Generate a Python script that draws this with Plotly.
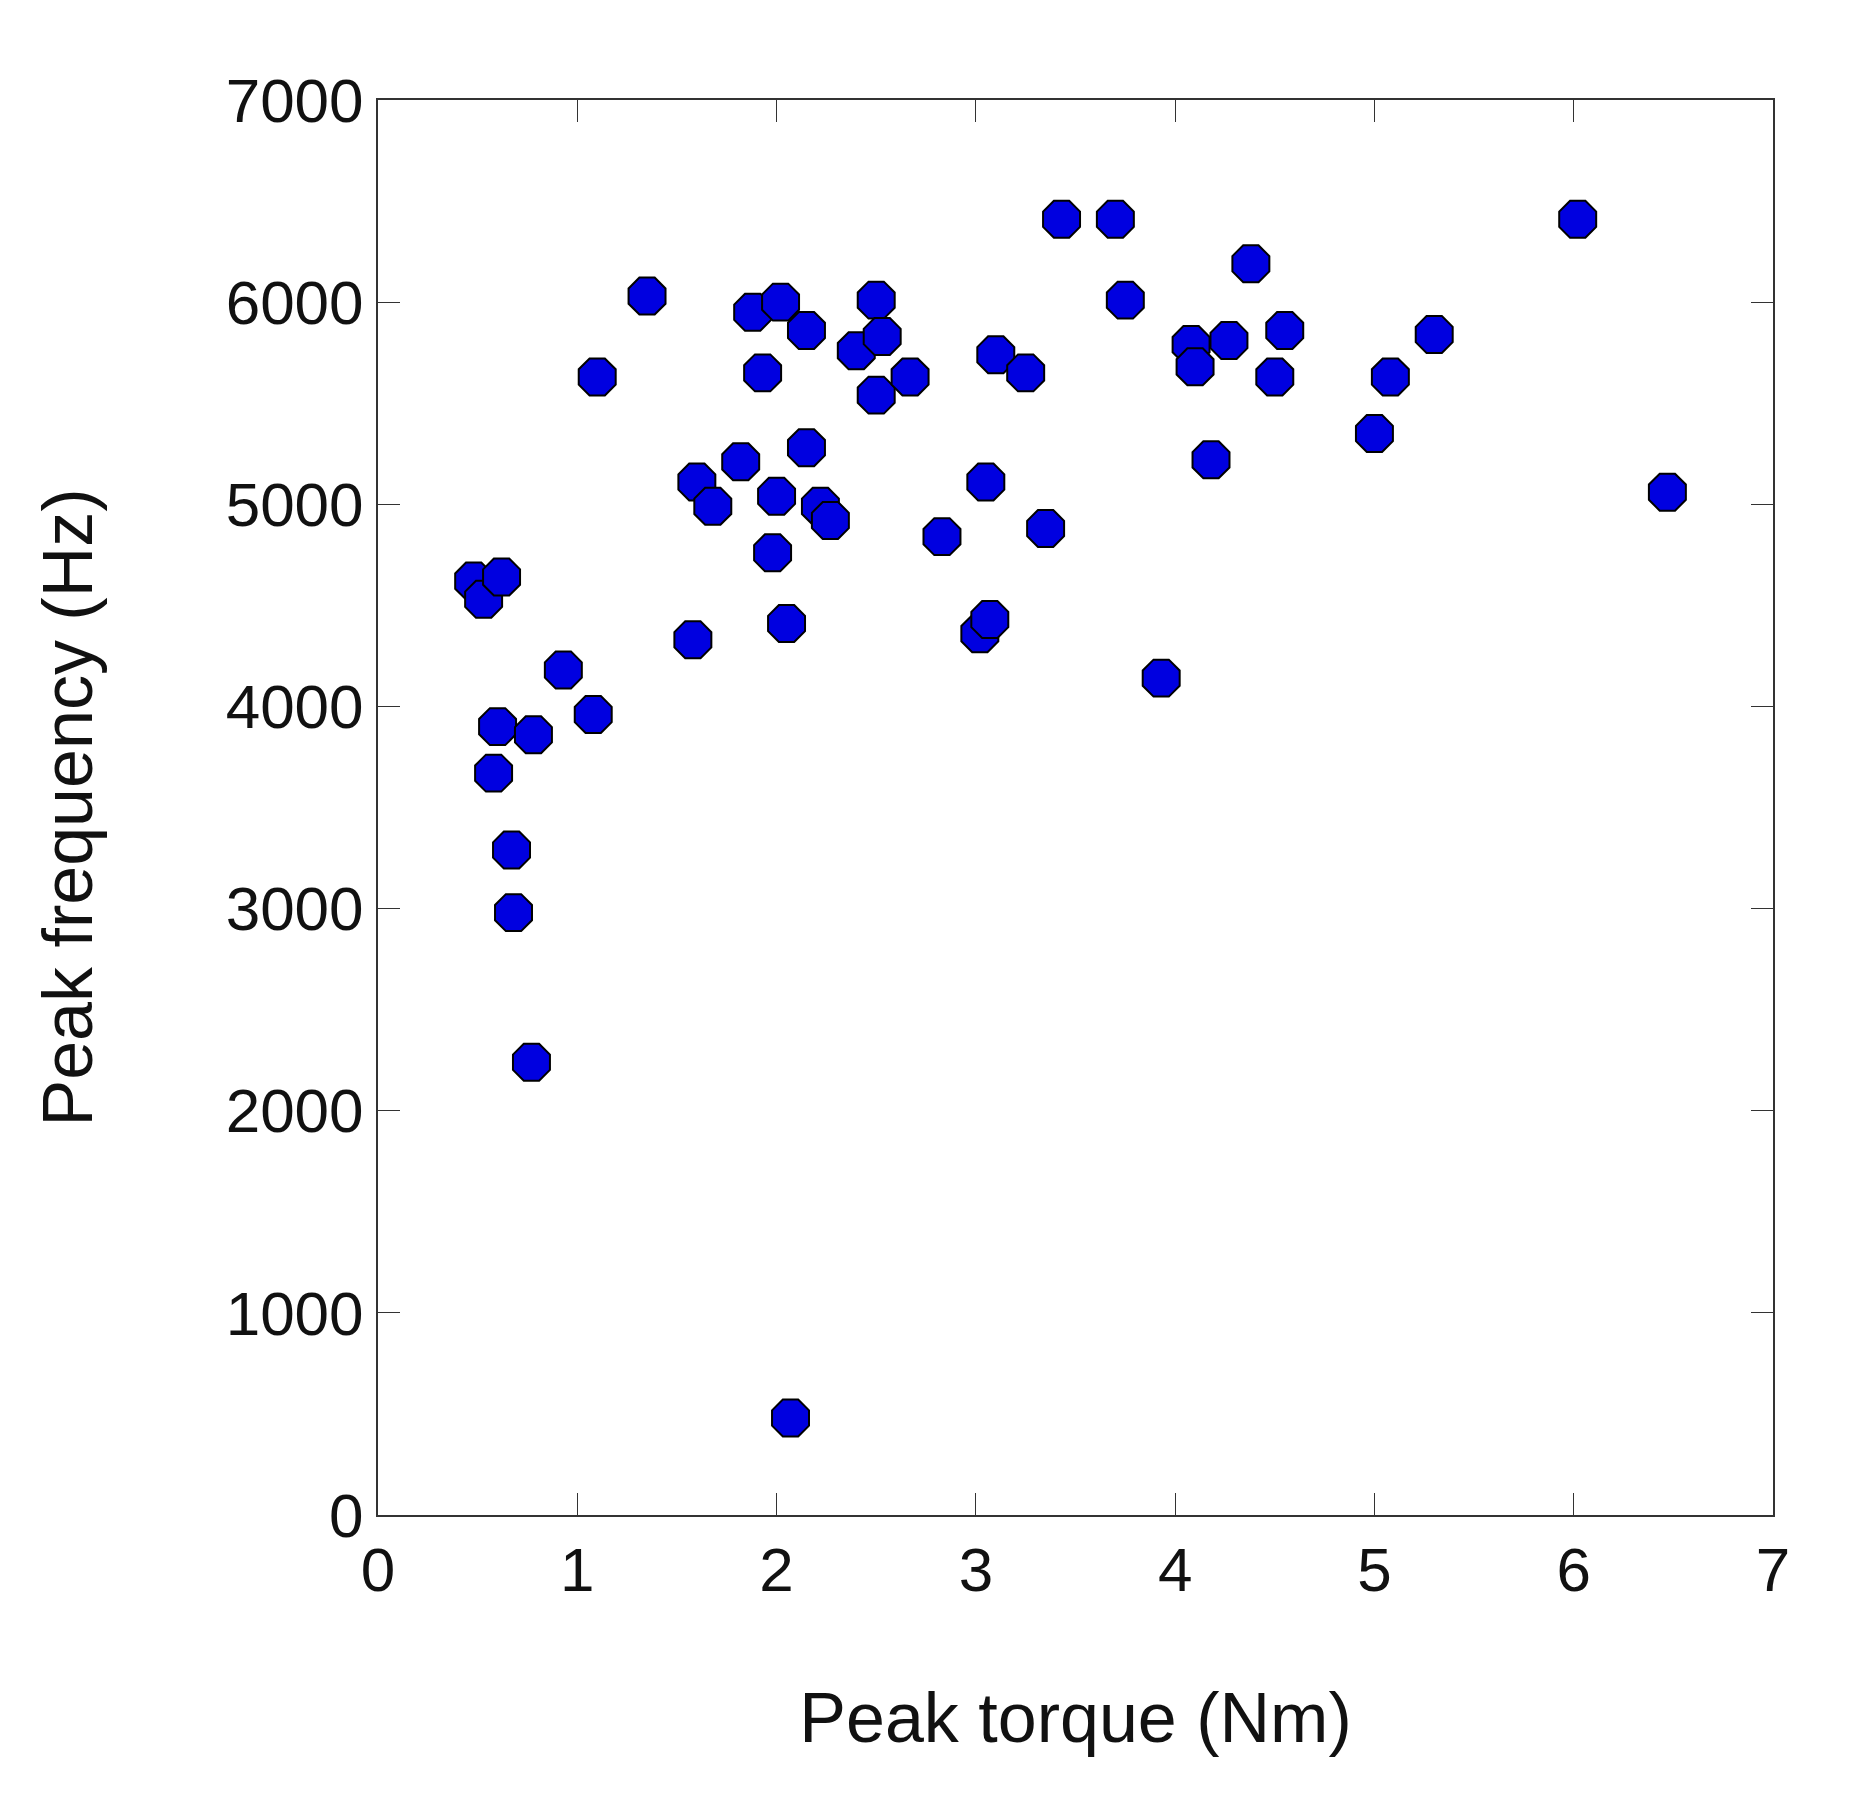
import plotly.graph_objs as go

torque = [0.48, 0.53, 0.62, 0.60, 0.58, 0.67, 0.68, 0.77, 0.78, 0.93, 1.08, 1.10, 1.35,
          1.58, 1.60, 1.68, 1.82, 1.88, 1.93, 1.98, 2.00, 2.02, 2.05, 2.07, 2.15, 2.15,
          2.22, 2.27, 2.40, 2.50, 2.50, 2.53, 2.67, 2.83, 3.02, 3.05, 3.07, 3.10, 3.25,
          3.35, 3.43, 3.70, 3.75, 3.93, 4.08, 4.10, 4.18, 4.27, 4.38, 4.50, 4.55, 5.00,
          5.08, 5.30, 6.02, 6.47]
freq = [4620, 4530, 4640, 3900, 3670, 3290, 2980, 2240, 3860, 4180, 3960, 5630, 6030,
        4330, 5110, 4990, 5210, 5950, 5650, 4760, 5040, 6000, 4410, 480, 5280, 5860,
        4990, 4920, 5760, 5540, 6010, 5830, 5630, 4840, 4360, 5110, 4430, 5740, 5650,
        4880, 6410, 6410, 6010, 4140, 5790, 5680, 5220, 5810, 6190, 5630, 5860, 5350,
        5630, 5840, 6410, 5060]

fig = go.Figure(go.Scatter(x=torque, y=freq, mode='markers',
                           marker=dict(color='#0000e0', size=40, symbol='octagon',
                                       line=dict(color='black', width=2))))

axis = dict(showline=True, linecolor='#333', linewidth=2, mirror='ticks',
            ticks='inside', ticklen=22, tickcolor='#333', showgrid=False, zeroline=False,
            tickfont=dict(size=62, color='#111'), title_font=dict(size=70, color='#111'))
fig.update_layout(
    width=1853, height=1797, plot_bgcolor='white', paper_bgcolor='white',
    font=dict(family='Liberation Sans, Arial'),
    margin=dict(l=370, r=88, t=92, b=290),
    showlegend=False,
    xaxis=dict(axis, range=[0, 7], dtick=1, title=dict(text='Peak torque (Nm)', standoff=90)),
    yaxis=dict(axis, range=[0, 7000], dtick=1000, title=dict(text='Peak frequency (Hz)', standoff=110)),
)
fig.write_html("out.html")
